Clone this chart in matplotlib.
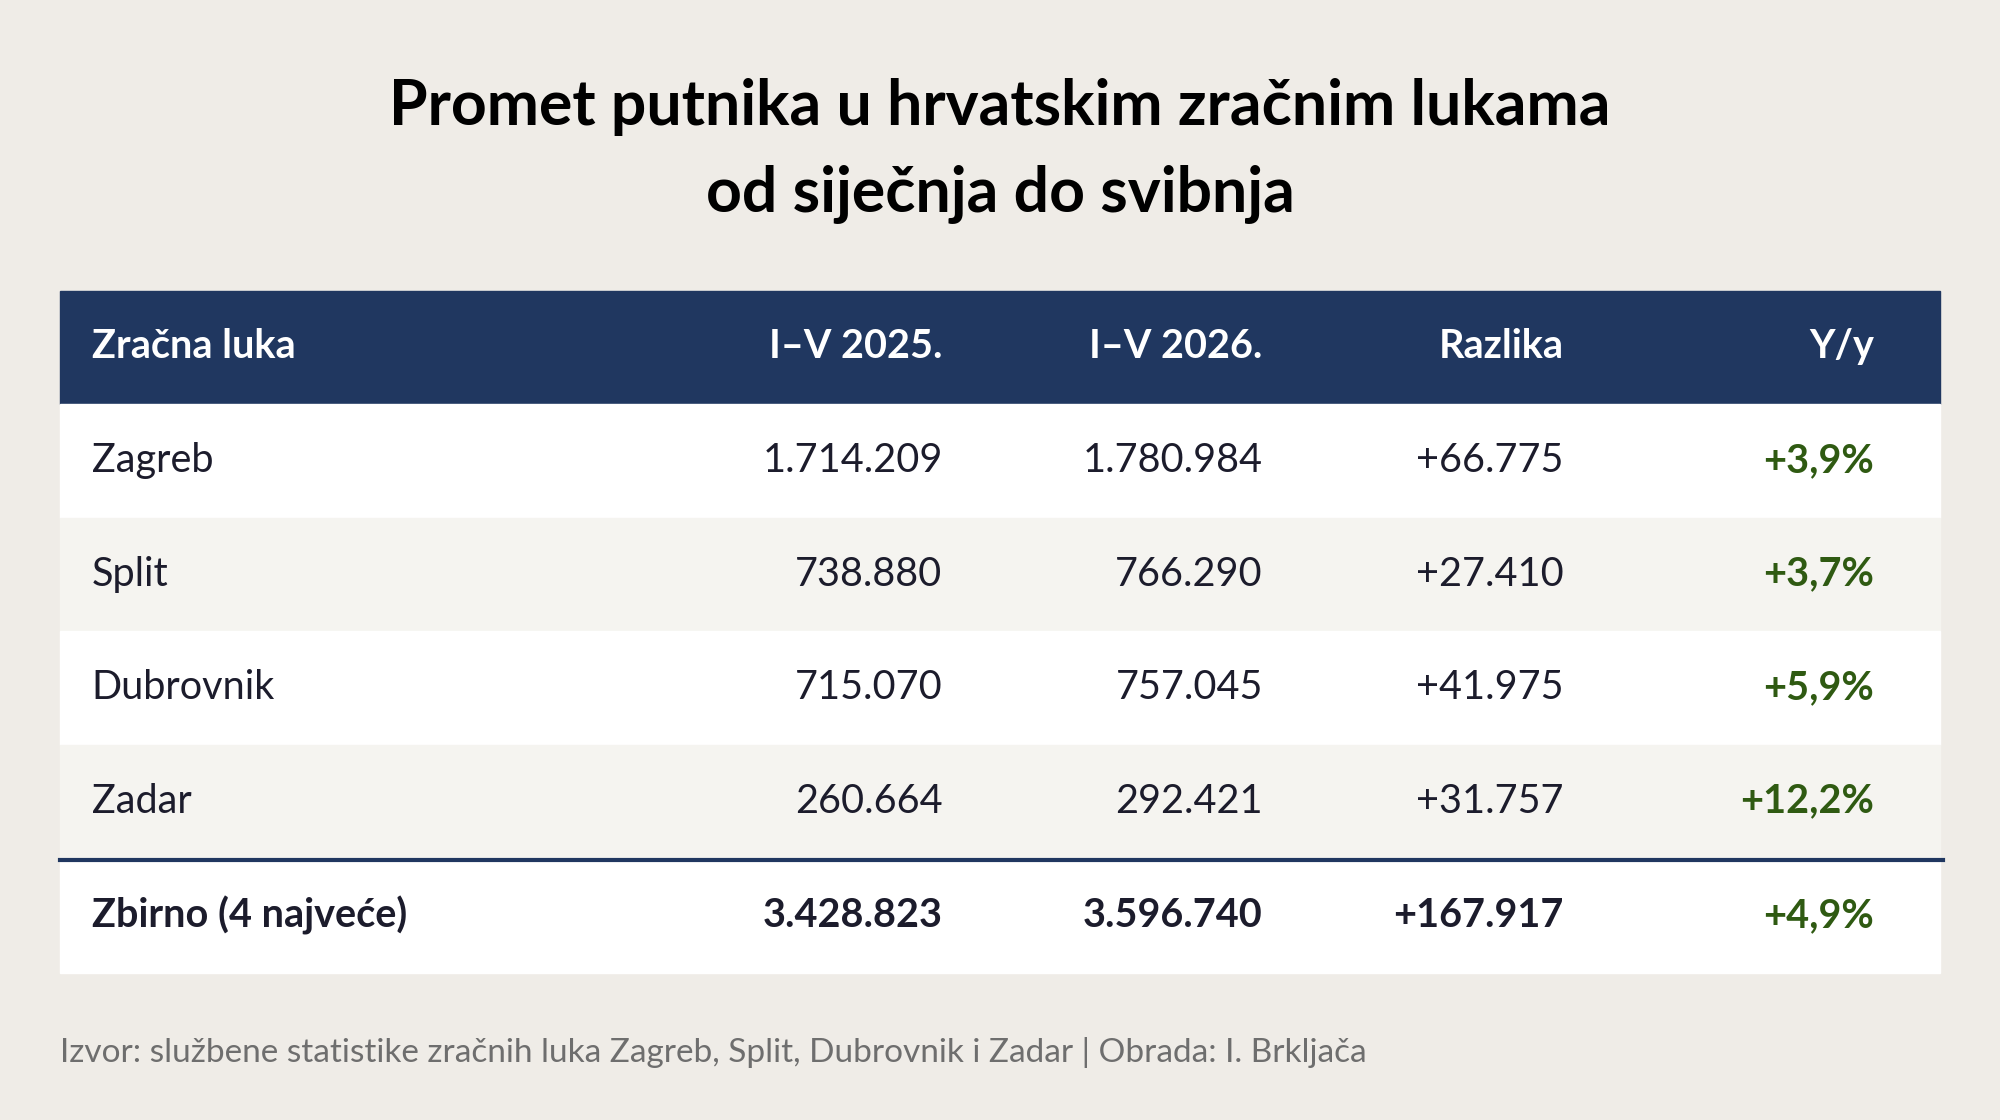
import matplotlib.pyplot as plt
from matplotlib.patches import Rectangle

plt.rcParams['font.family'] = ['Lato', 'DejaVu Sans']

title = "Promet putnika u hrvatskim zračnim lukama\nod siječnja do svibnja"
headers = ["Zračna luka", "I–V 2025.", "I–V 2026.", "Razlika", "Y/y"]
airports = ["Zagreb", "Split", "Dubrovnik", "Zadar"]
v2025 = ["1.714.209", "738.880", "715.070", "260.664"]
v2026 = ["1.780.984", "766.290", "757.045", "292.421"]
diff = ["+66.775", "+27.410", "+41.975", "+31.757"]
yoy = ["+3,9%", "+3,7%", "+5,9%", "+12,2%"]
total = ["Zbirno (4 najveće)", "3.428.823", "3.596.740", "+167.917", "+4,9%"]
source = "Izvor: službene statistike zračnih luka Zagreb, Split, Dubrovnik i Zadar | Obrada: I. Brkljača"

BG = "#efece7"
NAVY = "#203760"
ALT = "#f5f4f0"
GREEN = "#2f5a12"
DARK = "#1c1c2c"

fig = plt.figure(figsize=(20, 11.2), dpi=100, facecolor=BG)
ax = fig.add_axes([0, 0, 1, 1])
ax.set_xlim(0, 1568)
ax.set_ylim(878, 0)
ax.axis('off')

ax.text(784, 118, title, ha='center', va='center', fontsize=45, fontweight='bold',
        color='black', linespacing=1.6)

x0, x1 = 47, 1521
col_x = [72, 739, 990, 1226, 1469]
aligns = ['left', 'right', 'right', 'right', 'right']
fs = 28.5

ax.add_patch(Rectangle((x0, 228), x1 - x0, 89, color=NAVY))
for x, h, a in zip(col_x, headers, aligns):
    ax.text(x, 272, h, ha=a, va='center', fontsize=fs, fontweight='bold', color='white')

for i in range(len(airports)):
    top = 317 + i * 89
    ax.add_patch(Rectangle((x0, top), x1 - x0, 89, color='white' if i % 2 == 0 else ALT))
    row = [airports[i], v2025[i], v2026[i], diff[i], yoy[i]]
    for j, (x, v, a) in enumerate(zip(col_x, row, aligns)):
        ax.text(x, top + 44, v, ha=a, va='center', fontsize=fs,
                color=GREEN if j == 4 else DARK, fontweight='bold' if j == 4 else 'normal')

ax.add_patch(Rectangle((x0, 674), x1 - x0, 89, color='white'))
ax.plot([x0, x1 + 2], [674, 674], color=NAVY, lw=3)
for j, (x, v, a) in enumerate(zip(col_x, total, aligns)):
    ax.text(x, 718, v, ha=a, va='center', fontsize=fs, fontweight='bold',
            color=GREEN if j == 4 else DARK)

ax.text(47, 825, source, ha='left', va='center', fontsize=24, color='#6e6e6e')

fig.savefig('out.png', dpi=100, facecolor=BG)
